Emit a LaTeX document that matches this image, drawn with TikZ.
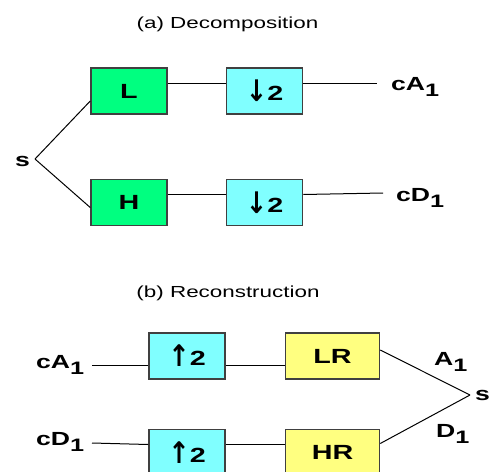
\documentclass[tikz,border=0pt]{standalone}
\usepackage{fontspec}
\setmainfont{Liberation Sans}[FakeStretch=1.4]
\newfontfamily\arrowfont{DejaVu Sans}
\usepackage{tikz}
\usetikzlibrary{positioning}

\definecolor{filtgreen}{HTML}{00FF80}
\definecolor{sampcyan}{HTML}{80FFFF}
\definecolor{recyellow}{HTML}{FFFF80}
\definecolor{boxedge}{HTML}{404040}

% lowered index as it is printed next to the coefficients
\newcommand{\idx}[1]{\raisebox{-6.5pt}{\fontsize{18}{18}\selectfont #1}}
% heavy arrows of the rate changers
\newcommand{\dn}{\raisebox{-1pt}{\scalebox{1.25}[1.45]{\arrowfont\bfseries ↓}}}
\newcommand{\upw}{\raisebox{-1pt}{\scalebox{1.25}[1.45]{\arrowfont\bfseries ↑}}}

\tikzset{
    filt/.style={draw=boxedge, line width=1.5pt, minimum width=76pt, minimum height=46pt,
        inner sep=0pt, font=\fontsize{20.5}{20.5}\selectfont\bfseries},
    lowbox/.style={filt, fill=filtgreen},
    ratebox/.style={filt, fill=sampcyan},
    recbox/.style={filt, fill=recyellow, minimum width=94pt},
    sig/.style={inner sep=0pt, font=\fontsize{19}{19}\selectfont\bfseries},
    caption/.style={inner sep=0pt, font=\fontsize{16}{16}\selectfont},
    wire/.style={line width=1pt}
}

\begin{document}
\begin{tikzpicture}[
            x=1pt, y=-1pt,
            node distance=64pt and 58pt
        ]
        \useasboundingbox (0,0) rectangle (489,471);
        \clip (0,0) rectangle (489,471);

        % decomposition
        \node[caption, anchor=base] (capa) at (227.5,28) {(a) Decomposition};
        \node[sig, anchor=base west] (sin) at (15,166) {s};
        \coordinate (split) at (35,159);
        \node[lowbox] (low) at (129,91) {L};
        \node[ratebox, right=of low] (downA) {\dn2};
        \node[lowbox, below=of low] (high) {H};
        \node[ratebox, right=of high] (downD) {\dn2};
        \node[sig, anchor=base west] (ca) at (391,90) {cA\idx{1}};
        \node[sig, anchor=base west] (cd) at (396,201) {cD\idx{1}};
        \coordinate (endA) at (377,83);
        \coordinate (endD) at (383,193);
        \draw[wire] (split) -- ([yshift=-10pt]low.west);
        \draw[wire] (split) -- ([yshift=-5pt]high.west);
        \draw[wire] ([yshift=8pt]low.east) -- ([yshift=8pt]downA.west);
        \draw[wire] ([yshift=8pt]downA.east) -- (endA);
        \draw[wire] ([yshift=8pt]high.east) -- ([yshift=8pt]downD.west);
        \draw[wire] ([yshift=8pt]downD.east) -- (endD);

        % reconstruction
        \node[caption, anchor=base] (capb) at (228,297.5) {(b) Reconstruction};
        \node[sig, anchor=base west] (ca2) at (36,368) {cA\idx{1}};
        \node[sig, anchor=base west] (cd2) at (36,445) {cD\idx{1}};
        \coordinate (startA) at (92,365);
        \coordinate (startD) at (92,443);
        \node[ratebox] (upA) at (187,356) {\upw2};
        \node[recbox, right=59pt of upA] (lr) {LR};
        \node[ratebox, below=49pt of upA] (upD) {\upw2};
        \node[recbox, right=59pt of upD] (hr) {HR};
        \coordinate (merge) at (470,395);
        \node[sig, anchor=base west] (sout) at (475,400) {s};
        \node[sig, anchor=base west] (a1) at (434,365) {A\idx{1}};
        \node[sig, anchor=base west] (d1) at (436,437) {D\idx{1}};
        \draw[wire] (startA) -- ([yshift=-9pt]upA.west);
        \draw[wire] ([yshift=-9pt]upA.east) -- ([yshift=-9pt]lr.west);
        \draw[wire] (startD) -- ([yshift=8pt]upD.west);
        \draw[wire] ([yshift=8pt]upD.east) -- ([yshift=8pt]hr.west);
        \draw[wire] ([yshift=6pt]lr.east) -- (merge);
        \draw[wire] ([yshift=9pt]hr.east) -- (merge);
    \end{tikzpicture}
\end{document}
